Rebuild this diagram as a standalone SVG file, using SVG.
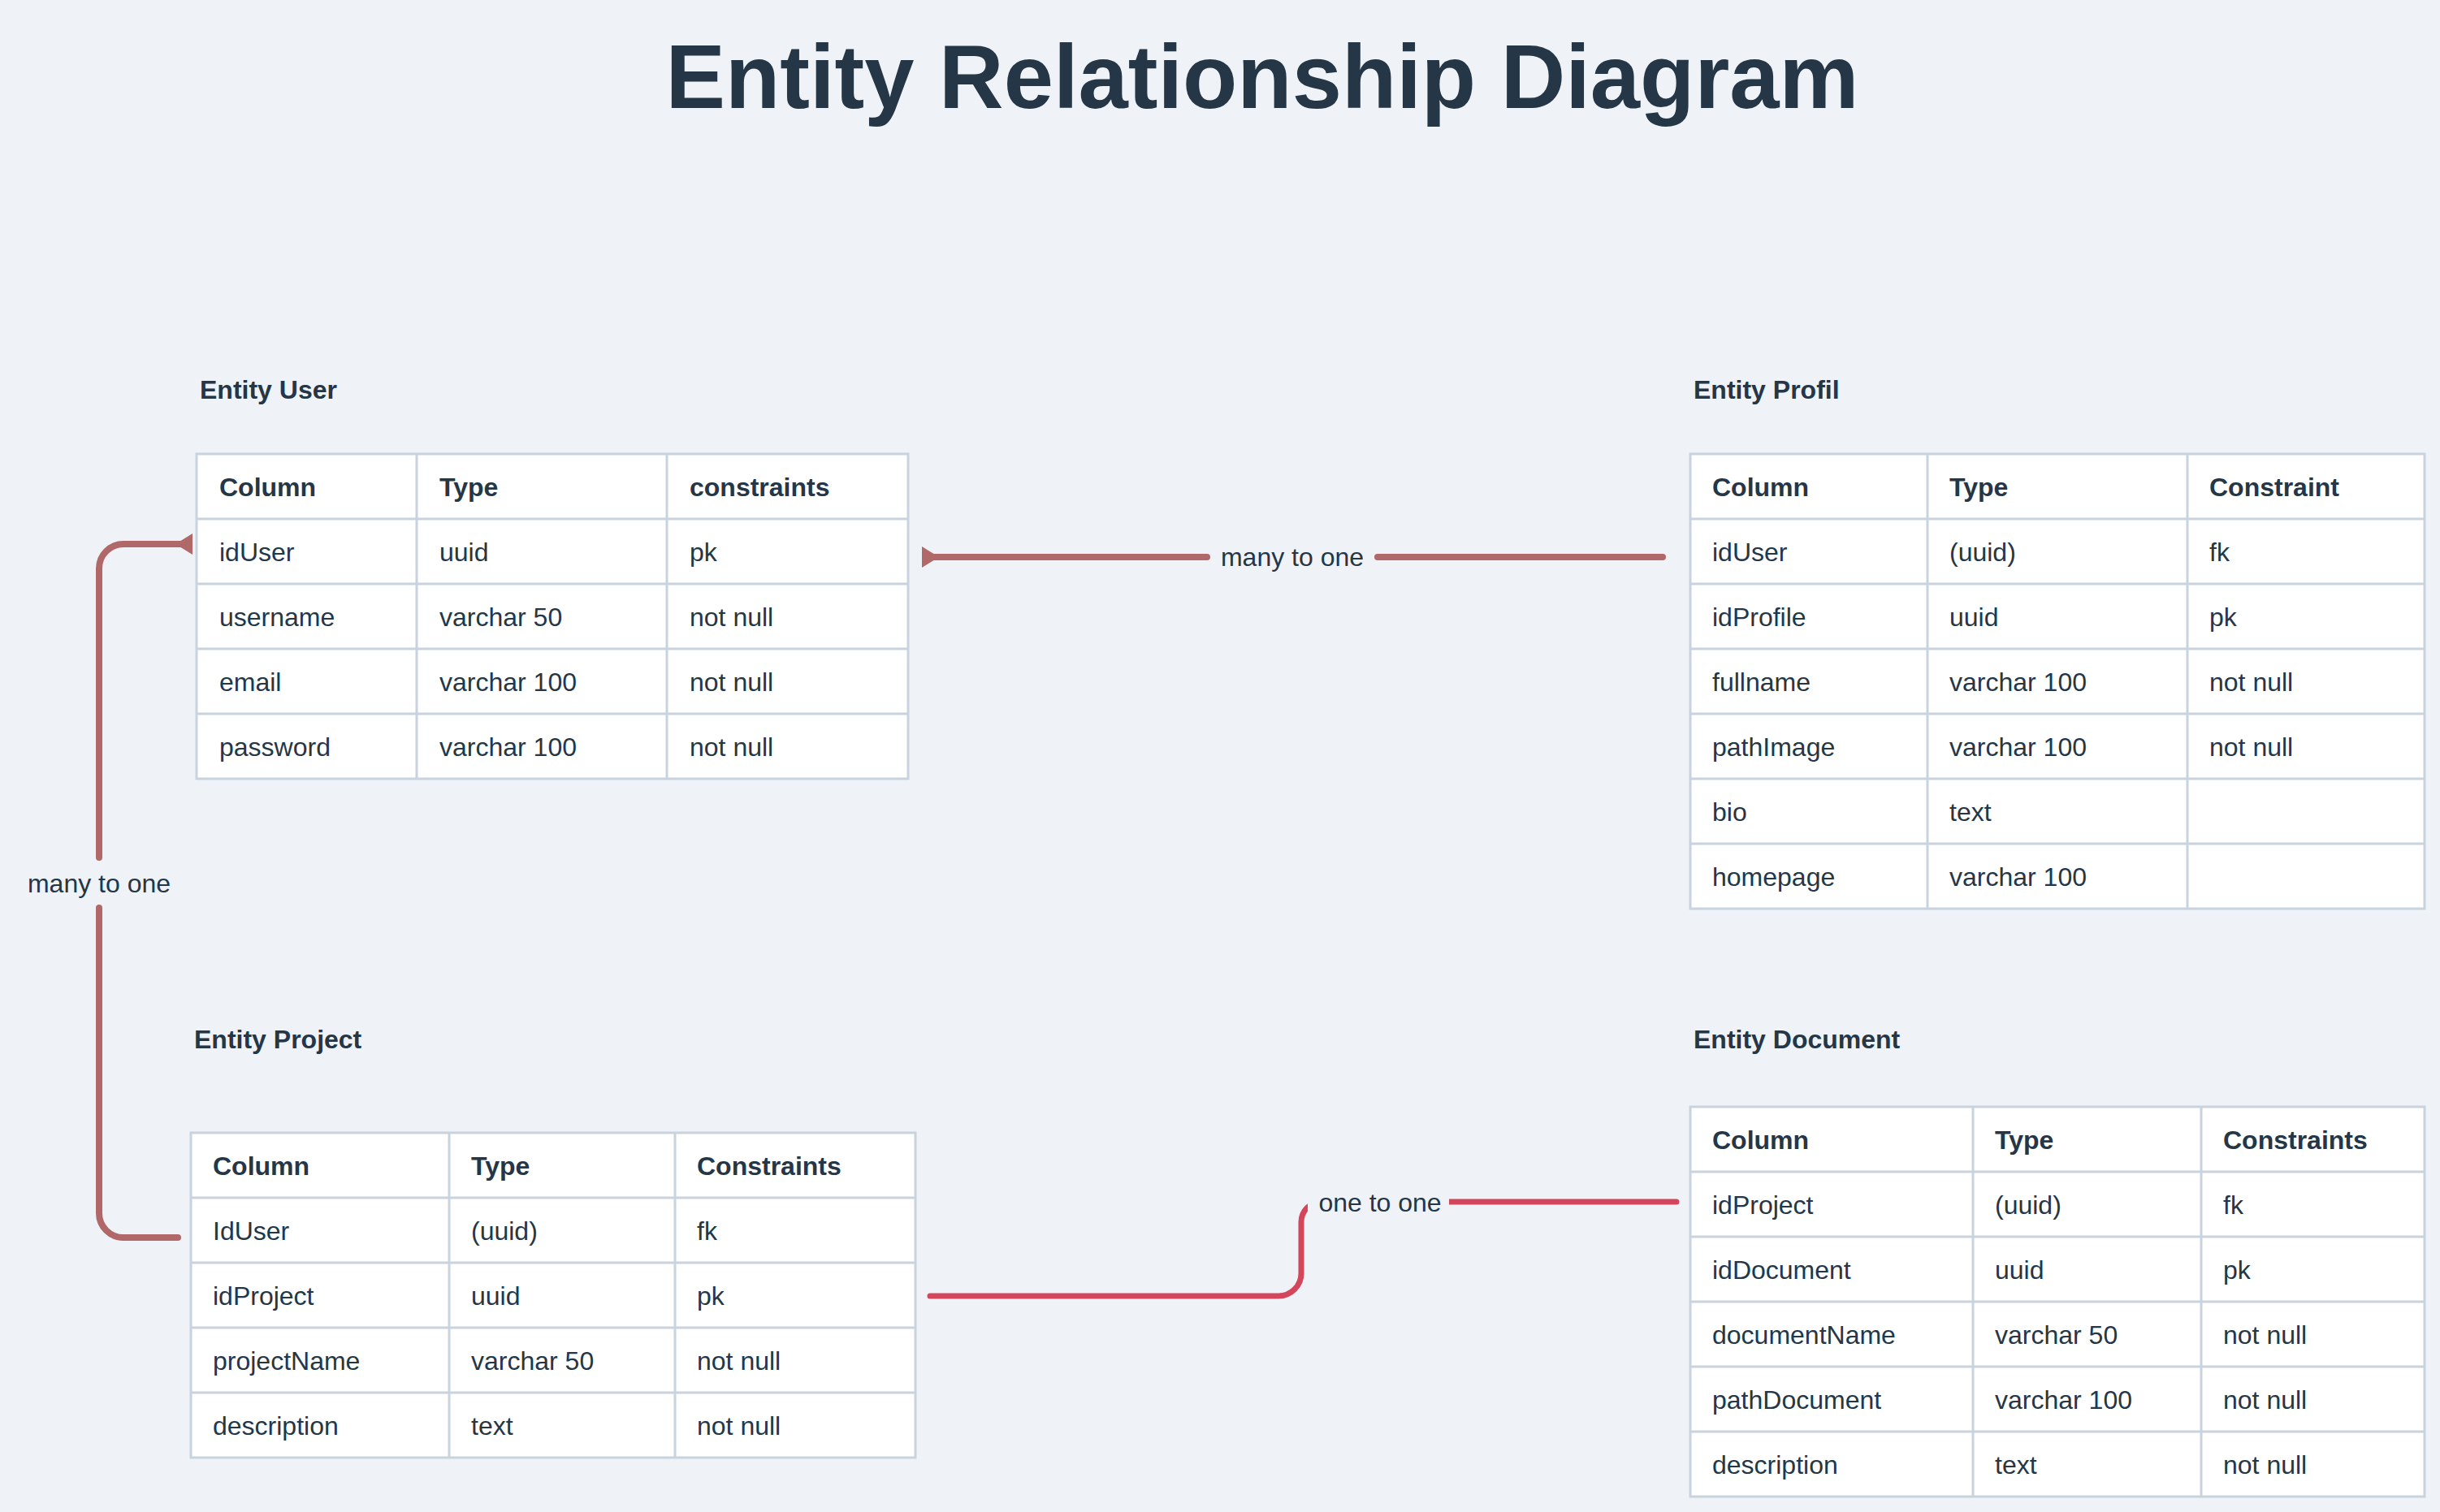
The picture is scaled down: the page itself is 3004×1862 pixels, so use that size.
<svg xmlns="http://www.w3.org/2000/svg" width="3004" height="1862" viewBox="0 0 3004 1862">
<style>
.bg{fill:#eff3f7}
.tbl{fill:#ffffff;stroke:#c8d3de;stroke-width:3}
.grid{stroke:#c8d3de;stroke-width:3;fill:none}
text{font-family:"Liberation Sans",Arial,sans-serif;fill:#253646}
.title{font-size:112px;font-weight:bold}
.ent{font-size:32px;font-weight:bold}
.hd{font-size:32px;font-weight:bold}
.cell{font-size:32px}
.lbl{font-size:32px}
.c1{fill:none;stroke:#b06868;stroke-width:8;stroke-linecap:round;stroke-linejoin:round}
.c2{fill:none;stroke:#d4465c;stroke-width:7;stroke-linecap:round;stroke-linejoin:round}
.lblbg{fill:#eff3f7}
</style>
<defs>
<marker id="tri" markerUnits="userSpaceOnUse" markerWidth="30" markerHeight="30" viewBox="-5 -15 30 30" refX="0" refY="0" orient="auto">
<path d="M-4,-13 L-4,13 L17,0 Z" fill="#b06868"/>
</marker>
</defs>
<rect class="bg" x="0" y="0" width="3004" height="1862"/>
<text class="title" x="1554" y="133" text-anchor="middle" textLength="1469" lengthAdjust="spacingAndGlyphs">Entity Relationship Diagram</text>

<g id="connectors">
<path class="c1" d="M1139,686 H1486" marker-start="url(#tri)"/>
<path class="c1" d="M1696,686 H2047"/>
<text class="lbl" x="1591" y="697" text-anchor="middle">many to one</text>
<path class="c1" d="M233,670 H152 A30,30 0 0 0 122,700 V1056" marker-start="url(#tri)"/>
<path class="c1" d="M122,1118 V1494 A30,30 0 0 0 152,1524 H219"/>
<text class="lbl" x="122" y="1099" text-anchor="middle">many to one</text>
<path class="c2" d="M1145,1596 H1574 A28,28 0 0 0 1602,1568 V1505 A25,25 0 0 1 1627,1480 H2064"/>
<rect class="lblbg" x="1610" y="1456" width="174" height="46"/>
<text class="lbl" x="1699" y="1492" text-anchor="middle">one to one</text>
</g>

<g id="entity-user">
<text class="ent" x="246" y="491">Entity User</text>
<rect class="tbl" x="242" y="559" width="876" height="400"/>
<path class="grid" d="M242,639 H1118 M242,719 H1118 M242,799 H1118 M242,879 H1118 M513,559 V959 M821,559 V959"/>
<text class="hd" x="270" y="611">Column</text><text class="hd" x="541" y="611">Type</text><text class="hd" x="849" y="611">constraints</text>
<text class="cell" x="270" y="691">idUser</text><text class="cell" x="541" y="691">uuid</text><text class="cell" x="849" y="691">pk</text>
<text class="cell" x="270" y="771">username</text><text class="cell" x="541" y="771">varchar 50</text><text class="cell" x="849" y="771">not null</text>
<text class="cell" x="270" y="851">email</text><text class="cell" x="541" y="851">varchar 100</text><text class="cell" x="849" y="851">not null</text>
<text class="cell" x="270" y="931">password</text><text class="cell" x="541" y="931">varchar 100</text><text class="cell" x="849" y="931">not null</text>
</g>

<g id="entity-profil">
<text class="ent" x="2085" y="491">Entity Profil</text>
<rect class="tbl" x="2081" y="559" width="904" height="560"/>
<path class="grid" d="M2081,639 H2985 M2081,719 H2985 M2081,799 H2985 M2081,879 H2985 M2081,959 H2985 M2081,1039 H2985 M2373,559 V1119 M2693,559 V1119"/>
<text class="hd" x="2108" y="611">Column</text><text class="hd" x="2400" y="611">Type</text><text class="hd" x="2720" y="611">Constraint</text>
<text class="cell" x="2108" y="691">idUser</text><text class="cell" x="2400" y="691">(uuid)</text><text class="cell" x="2720" y="691">fk</text>
<text class="cell" x="2108" y="771">idProfile</text><text class="cell" x="2400" y="771">uuid</text><text class="cell" x="2720" y="771">pk</text>
<text class="cell" x="2108" y="851">fullname</text><text class="cell" x="2400" y="851">varchar 100</text><text class="cell" x="2720" y="851">not null</text>
<text class="cell" x="2108" y="931">pathImage</text><text class="cell" x="2400" y="931">varchar 100</text><text class="cell" x="2720" y="931">not null</text>
<text class="cell" x="2108" y="1011">bio</text><text class="cell" x="2400" y="1011">text</text>
<text class="cell" x="2108" y="1091">homepage</text><text class="cell" x="2400" y="1091">varchar 100</text>
</g>

<g id="entity-project">
<text class="ent" x="239" y="1291">Entity Project</text>
<rect class="tbl" x="235" y="1395" width="892" height="400"/>
<path class="grid" d="M235,1475 H1127 M235,1555 H1127 M235,1635 H1127 M235,1715 H1127 M553,1395 V1795 M831,1395 V1795"/>
<text class="hd" x="262" y="1447">Column</text><text class="hd" x="580" y="1447">Type</text><text class="hd" x="858" y="1447">Constraints</text>
<text class="cell" x="262" y="1527">IdUser</text><text class="cell" x="580" y="1527">(uuid)</text><text class="cell" x="858" y="1527">fk</text>
<text class="cell" x="262" y="1607">idProject</text><text class="cell" x="580" y="1607">uuid</text><text class="cell" x="858" y="1607">pk</text>
<text class="cell" x="262" y="1687">projectName</text><text class="cell" x="580" y="1687">varchar 50</text><text class="cell" x="858" y="1687">not null</text>
<text class="cell" x="262" y="1767">description</text><text class="cell" x="580" y="1767">text</text><text class="cell" x="858" y="1767">not null</text>
</g>

<g id="entity-document">
<text class="ent" x="2085" y="1291">Entity Document</text>
<rect class="tbl" x="2081" y="1363" width="904" height="480"/>
<path class="grid" d="M2081,1443 H2985 M2081,1523 H2985 M2081,1603 H2985 M2081,1683 H2985 M2081,1763 H2985 M2429,1363 V1843 M2710,1363 V1843"/>
<text class="hd" x="2108" y="1415">Column</text><text class="hd" x="2456" y="1415">Type</text><text class="hd" x="2737" y="1415">Constraints</text>
<text class="cell" x="2108" y="1495">idProject</text><text class="cell" x="2456" y="1495">(uuid)</text><text class="cell" x="2737" y="1495">fk</text>
<text class="cell" x="2108" y="1575">idDocument</text><text class="cell" x="2456" y="1575">uuid</text><text class="cell" x="2737" y="1575">pk</text>
<text class="cell" x="2108" y="1655">documentName</text><text class="cell" x="2456" y="1655">varchar 50</text><text class="cell" x="2737" y="1655">not null</text>
<text class="cell" x="2108" y="1735">pathDocument</text><text class="cell" x="2456" y="1735">varchar 100</text><text class="cell" x="2737" y="1735">not null</text>
<text class="cell" x="2108" y="1815">description</text><text class="cell" x="2456" y="1815">text</text><text class="cell" x="2737" y="1815">not null</text>
</g>
</svg>
